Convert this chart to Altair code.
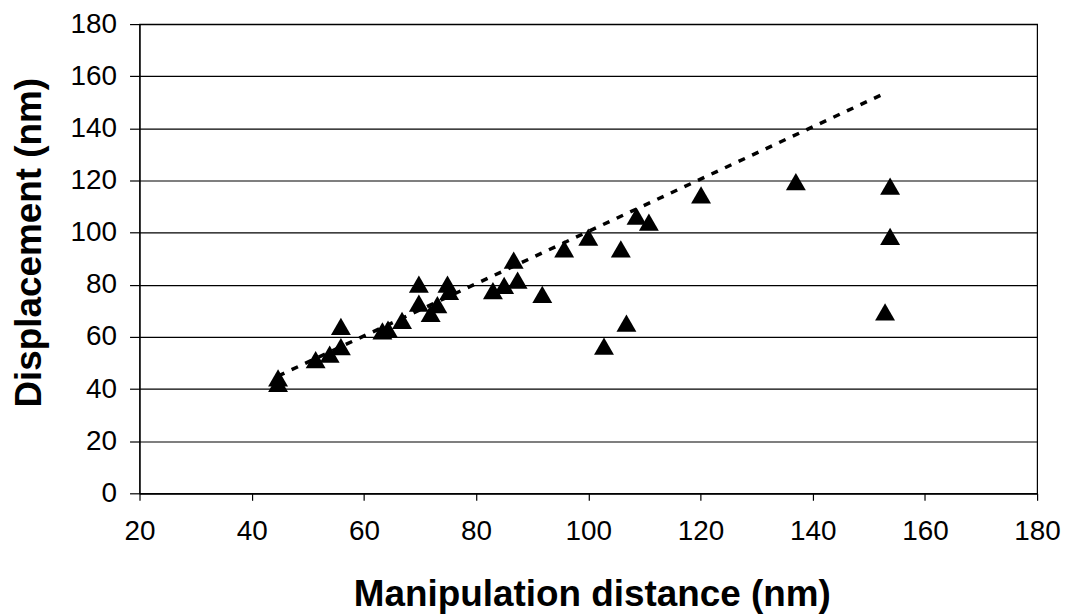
import altair as alt
import pandas as pd

# Measured points (manipulation distance, displacement) in nm
distance = [44.7, 44.7, 51.4, 53.9, 55.9, 55.9, 63.3, 64.3, 66.8, 69.8, 69.8,
            71.9, 73.1, 74.9, 75.2, 83.0, 85.0, 87.4, 86.7, 91.8, 95.7, 100.0,
            105.8, 102.8, 106.8, 108.6, 110.8, 120.1, 137.0, 153.8, 153.8, 152.9]
displacement = [44.3, 42.2, 51.3, 53.4, 64.0, 56.3, 62.3, 63.0, 66.3, 80.2, 73.0,
                69.0, 72.4, 80.2, 77.5, 77.8, 79.8, 81.8, 89.5, 76.3, 93.8, 98.3,
                93.8, 56.5, 65.3, 106.3, 104.0, 114.5, 119.6, 117.8, 98.6, 69.6]

# Dotted trend line end points
fit_distance = [44.7, 153.2]
fit_displacement = [45.0, 153.8]

x_ticks = [20, 40, 60, 80, 100, 120, 140, 160, 180]
y_ticks = [0, 20, 40, 60, 80, 100, 120, 140, 160, 180]

pts = pd.DataFrame({"d": distance, "y": displacement})
fit = pd.DataFrame({"d": fit_distance, "y": fit_displacement})

xscale = alt.Scale(domain=[20, 180], nice=False, zero=False)
yscale = alt.Scale(domain=[0, 180], nice=False, zero=True)

xaxis = alt.Axis(values=x_ticks, title="Manipulation distance (nm)", grid=False,
                 tickSize=7, labelPadding=17, titleX=454, titleY=113,
                 titleAlign="center", titleBaseline="alphabetic")
yaxis = alt.Axis(values=y_ticks, title="Displacement (nm)", grid=True,
                 tickSize=10, labelPadding=13, titleAngle=270, titleX=-99,
                 titleY=219, titleAlign="center", titleBaseline="alphabetic")

line = alt.Chart(fit).mark_line(color="black", strokeWidth=3.5, strokeDash=[7, 8]).encode(
    x=alt.X("d:Q", scale=xscale, axis=xaxis),
    y=alt.Y("y:Q", scale=yscale, axis=yaxis),
)

points = alt.Chart(pts).mark_point(shape="triangle-up", filled=True, size=400,
                                   color="black", opacity=1, strokeWidth=0).encode(
    x=alt.X("d:Q", scale=xscale, axis=xaxis),
    y=alt.Y("y:Q", scale=yscale, axis=yaxis),
)

chart = alt.layer(line, points).properties(
    width=901, height=471,
    autosize=alt.AutoSizeParams(type="none"),
    padding={"left": 132, "top": 15, "right": 24, "bottom": 121},
    background="white",
).configure_view(
    stroke="black", strokeWidth=1.2
).configure_axis(
    labelFont="Liberation Sans", labelFontSize=28, labelColor="black",
    titleFont="Liberation Sans", titleFontSize=37, titleFontWeight="bold",
    titleColor="black", tickColor="black", tickWidth=1.2, domainColor="black",
    domainWidth=1.2, gridColor="black", gridWidth=1.2, gridOpacity=1,
    labelOverlap=False, labelFlush=False
)

chart.save("out.html", embed_options={"renderer": "svg", "actions": False})
